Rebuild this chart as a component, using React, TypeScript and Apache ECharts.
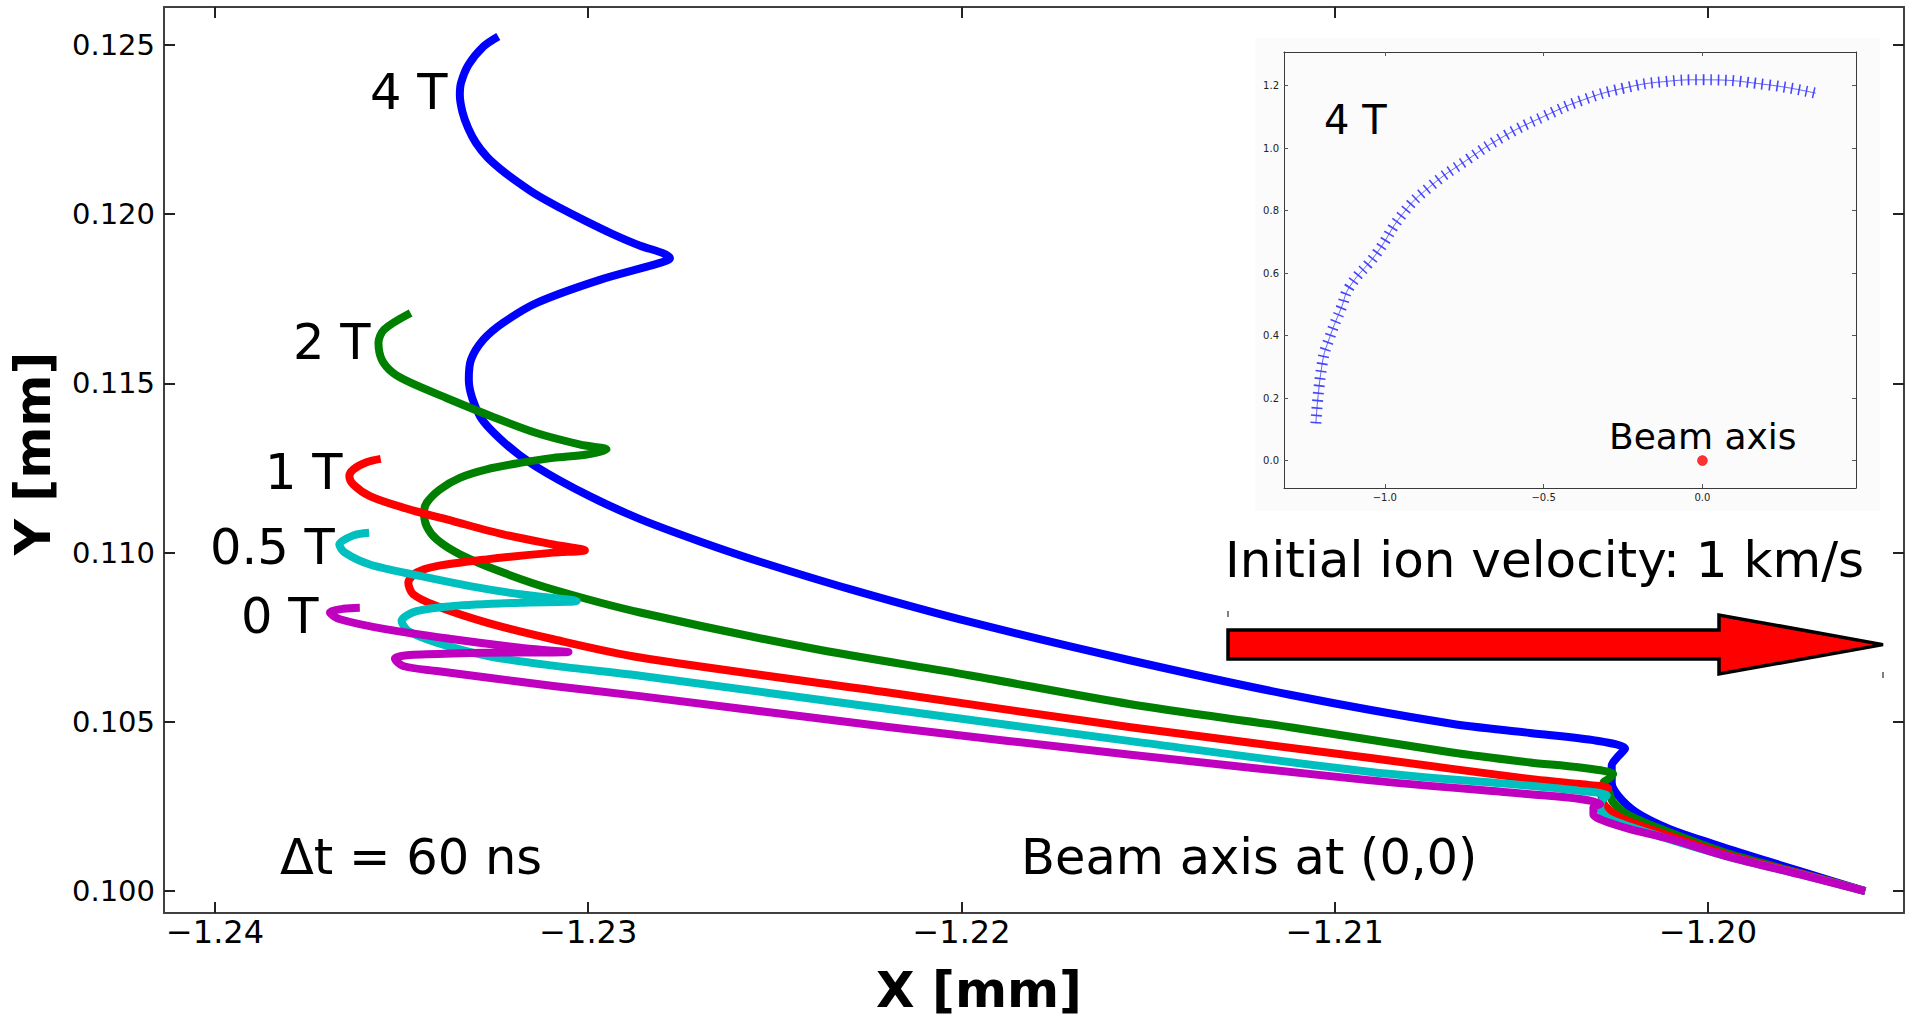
import React, { useEffect, useRef } from "react";
import * as echarts from "echarts";

const FONT = '"DejaVu Sans", "Liberation Sans", sans-serif';

// ---- main plot axes ----
const xTicks = [-1.24, -1.23, -1.22, -1.21, -1.2];
const yTicks = [0.1, 0.105, 0.11, 0.115, 0.12, 0.125];
const xRange = [-1.241366, -1.194749];
const yRange = [0.099351, 0.126122];

// ---- trajectories (X [mm], Y [mm]) ----
const traj4T = [
  [-1.23241, 0.12525], [-1.23281, 0.12495], [-1.23321, 0.12441], [-1.23341, 0.12387],
  [-1.23344, 0.12352], [-1.23337, 0.12302], [-1.23322, 0.12255], [-1.23301, 0.12211],
  [-1.23271, 0.12169], [-1.23236, 0.12134], [-1.23194, 0.12099], [-1.23138, 0.12057],
  [-1.23076, 0.12019], [-1.23009, 0.11981], [-1.22936, 0.11942], [-1.22861, 0.11907],
  [-1.228, 0.11885], [-1.22781, 0.1187], [-1.22808, 0.11856], [-1.22969, 0.11806],
  [-1.23138, 0.11738], [-1.23228, 0.11679], [-1.23281, 0.11629], [-1.23314, 0.1157],
  [-1.2332, 0.11511], [-1.2329, 0.11403], [-1.23224, 0.11324], [-1.23141, 0.11255],
  [-1.22995, 0.11166], [-1.22861, 0.11099], [-1.22701, 0.11033], [-1.2254, 0.10973],
  [-1.22299, 0.10892], [-1.21977, 0.10795], [-1.21549, 0.10682], [-1.2112, 0.1058],
  [-1.20691, 0.10495], [-1.20477, 0.10467], [-1.20298, 0.10444], [-1.20222, 0.10421],
  [-1.2024, 0.10399], [-1.20258, 0.1037], [-1.20258, 0.10321], [-1.2024, 0.10281],
  [-1.20191, 0.10232], [-1.20102, 0.10183], [-1.19986, 0.10139], [-1.19843, 0.10089],
  [-1.19754, 0.10059], [-1.19579, 0.1],
];
const traj2T = [
  [-1.23476, 0.11708], [-1.23547, 0.11659], [-1.23562, 0.1162], [-1.23553, 0.1157],
  [-1.23523, 0.11531], [-1.23476, 0.11502], [-1.2338, 0.11457], [-1.2326, 0.11403],
  [-1.23141, 0.11354], [-1.23021, 0.11319], [-1.22951, 0.11305], [-1.23004, 0.1129],
  [-1.23094, 0.1128], [-1.23183, 0.11265], [-1.23272, 0.11246], [-1.23344, 0.11221],
  [-1.23397, 0.11187], [-1.23433, 0.11147], [-1.2344, 0.11118], [-1.23433, 0.11078],
  [-1.23406, 0.11039], [-1.23344, 0.10995], [-1.23228, 0.10941], [-1.23094, 0.10891],
  [-1.22861, 0.10823], [-1.22406, 0.10718], [-1.21976, 0.10637], [-1.21547, 0.10552],
  [-1.21119, 0.10484], [-1.2069, 0.1041], [-1.20477, 0.1038], [-1.20343, 0.10365],
  [-1.20254, 0.10345], [-1.20267, 0.10331], [-1.2028, 0.10321], [-1.20267, 0.10296],
  [-1.20254, 0.10262], [-1.20209, 0.10222], [-1.20102, 0.10173], [-1.19941, 0.10109],
  [-1.19754, 0.10053], [-1.19579, 0.1],
];
const traj1T = [
  [-1.23556, 0.11277], [-1.23594, 0.11267], [-1.23629, 0.11246], [-1.2364, 0.11226],
  [-1.23629, 0.11201], [-1.23585, 0.11167], [-1.23496, 0.11133], [-1.23362, 0.11093],
  [-1.23228, 0.11054], [-1.23094, 0.11024], [-1.23009, 0.11007], [-1.23094, 0.11],
  [-1.23272, 0.1098], [-1.23406, 0.1096], [-1.2346, 0.10941], [-1.23482, 0.10911],
  [-1.23469, 0.10877], [-1.23406, 0.10842], [-1.23272, 0.10793], [-1.23094, 0.10744],
  [-1.22861, 0.1069], [-1.22191, 0.10586], [-1.21547, 0.10484], [-1.20904, 0.10393],
  [-1.20477, 0.10331], [-1.20343, 0.10316], [-1.20267, 0.10303], [-1.20285, 0.10281],
  [-1.20276, 0.10252], [-1.20227, 0.10213], [-1.20102, 0.10163], [-1.19941, 0.10104],
  [-1.19754, 0.10052], [-1.19579, 0.1],
];
const traj05T = [
  [-1.23587, 0.11059], [-1.23629, 0.11051], [-1.23667, 0.11024], [-1.23652, 0.11],
  [-1.23585, 0.10965], [-1.23451, 0.10931], [-1.23317, 0.10901], [-1.23183, 0.10877],
  [-1.23031, 0.10857], [-1.23183, 0.10852], [-1.23362, 0.10842], [-1.2346, 0.10827],
  [-1.235, 0.10798], [-1.23482, 0.10768], [-1.23406, 0.10734], [-1.23272, 0.10695],
  [-1.23094, 0.10666], [-1.22861, 0.10636], [-1.22191, 0.10537], [-1.21547, 0.10443],
  [-1.20904, 0.10352], [-1.20477, 0.10311], [-1.20343, 0.10296], [-1.20271, 0.10283],
  [-1.20285, 0.10267], [-1.20289, 0.10247], [-1.20263, 0.10213], [-1.20121, 0.10159],
  [-1.19941, 0.101], [-1.19754, 0.1005], [-1.19579, 0.1],
];
const traj0T = [
  [-1.23612, 0.10837], [-1.23656, 0.10834], [-1.23692, 0.10823], [-1.23665, 0.10803],
  [-1.2354, 0.10773], [-1.23362, 0.10744], [-1.23183, 0.10719], [-1.23094, 0.1071],
  [-1.23053, 0.10706], [-1.23094, 0.10705], [-1.23183, 0.10705], [-1.23362, 0.10702],
  [-1.23486, 0.10697], [-1.23518, 0.10687], [-1.23496, 0.10665], [-1.23406, 0.1065],
  [-1.23272, 0.10631], [-1.23094, 0.10606], [-1.22861, 0.10576], [-1.22191, 0.10484],
  [-1.21547, 0.10403], [-1.20904, 0.10327], [-1.20477, 0.10286], [-1.20343, 0.10272],
  [-1.20289, 0.10257], [-1.20307, 0.10247], [-1.20307, 0.10227], [-1.2028, 0.10208],
  [-1.20209, 0.10183], [-1.20102, 0.10154], [-1.19941, 0.101], [-1.19754, 0.10049],
  [-1.19579, 0.1],
];

const fieldNames = ["4 T", "2 T", "1 T", "0.5 T", "0 T"];
const fieldColors = ["#0000ff", "#008000", "#ff0000", "#00bfbf", "#bf00bf"];
const fieldData = [traj4T, traj2T, traj1T, traj05T, traj0T];

// ---- inset (4 T, long time) ----
const insetXTicks = [-1.0, -0.5, 0.0];
const insetYTicks = [0.0, 0.2, 0.4, 0.6, 0.8, 1.0, 1.2];
const insetXRange = [-1.3174, 0.4835];
const insetYRange = [-0.0878, 1.308];
const insetPath = [
  [-1.217, 0.119], [-1.197, 0.311], [-1.173, 0.396], [-1.136, 0.492], [-1.111, 0.556],
  [-1.026, 0.663], [-0.942, 0.792], [-0.858, 0.877], [-0.742, 0.962], [-0.627, 1.037],
  [-0.501, 1.101], [-0.375, 1.155], [-0.249, 1.192], [-0.123, 1.213], [0.0, 1.219],
  [0.207, 1.203], [0.357, 1.176],
];
const beamAxis = [[0.0, 0.0]];

const fmtX = (v: number) => (v < 0 ? "\u2212" : "") + Math.abs(v).toFixed(2);
const fmtY = (v: number) => v.toFixed(3);
const fmtInset = (v: number) => (v < 0 ? "\u2212" : "") + Math.abs(v).toFixed(1);

export default function App() {
  const ref = useRef<HTMLDivElement>(null);
  useEffect(() => {
    if (!ref.current) return;
    const chart = echarts.init(ref.current, undefined, { renderer: "svg" });

    const frameLine = { show: true, onZero: false, lineStyle: { color: "#404040", width: 2 } };
    const insetFrame = { show: true, onZero: false, lineStyle: { color: "#3a3a3a", width: 1 } };

    const mainSeries = fieldData.map((d, i) => ({
      name: fieldNames[i],
      type: "line",
      xAxisIndex: 0,
      yAxisIndex: 0,
      data: d,
      showSymbol: false,
      symbol: "none",
      smooth: 0.3,
      z: 3 + i,
      lineStyle: { color: fieldColors[i], width: 8, cap: "butt", join: "round" },
    }));

    const text = (t: string, x: number, y: number, size: number) => ({
      type: "text",
      x,
      y,
      z: 20,
      style: {
        text: t,
        fill: "#000",
        font: `${size}px ${FONT}`,
        fontSize: size,
        fontFamily: FONT,
        align: "left",
        verticalAlign: "middle",
        textAlign: "left",
        textVerticalAlign: "middle",
      },
    });

    chart.setOption({
      animation: false,
      backgroundColor: "#ffffff",
      grid: [
        { left: 164, top: 7, width: 1740, height: 907, containLabel: false },
        { left: 1284, top: 52, width: 572, height: 436, containLabel: false },
      ],
      xAxis: [
        {
          type: "value", gridIndex: 0, min: xRange[0], max: xRange[1], position: "bottom",
          name: "X [mm]", nameLocation: "middle", nameGap: 52,
          nameTextStyle: { fontFamily: FONT, fontSize: 50, fontWeight: "bold", color: "#000", padding: [0, 110, 0, 0] },
          axisLine: frameLine,
          axisTick: { show: true, inside: true, length: 11, customValues: xTicks, lineStyle: { color: "#222", width: 2 } },
          axisLabel: { show: true, customValues: xTicks, formatter: fmtX, margin: 3, fontFamily: FONT, fontSize: 32, color: "#000" },
          splitLine: { show: false },
        },
        {
          type: "value", gridIndex: 0, min: xRange[0], max: xRange[1], position: "top",
          axisLine: frameLine,
          axisTick: { show: true, inside: true, length: 11, customValues: xTicks, lineStyle: { color: "#222", width: 2 } },
          axisLabel: { show: false },
          splitLine: { show: false },
        },
        {
          type: "value", gridIndex: 1, min: insetXRange[0], max: insetXRange[1], position: "bottom",
          axisLine: insetFrame,
          axisTick: { show: true, inside: true, length: 4, customValues: insetXTicks, lineStyle: { color: "#555", width: 1 } },
          axisLabel: { show: true, customValues: insetXTicks, formatter: fmtInset, margin: 4, fontFamily: FONT, fontSize: 10, color: "#222" },
          splitLine: { show: false },
        },
        {
          type: "value", gridIndex: 1, min: insetXRange[0], max: insetXRange[1], position: "top",
          axisLine: insetFrame,
          axisTick: { show: true, inside: true, length: 4, customValues: insetXTicks, lineStyle: { color: "#555", width: 1 } },
          axisLabel: { show: false },
          splitLine: { show: false },
        },
      ],
      yAxis: [
        {
          type: "value", gridIndex: 0, min: yRange[0], max: yRange[1], position: "left",
          name: "Y [mm]", nameLocation: "middle", nameGap: 106, nameRotate: 90,
          nameTextStyle: { fontFamily: FONT, fontSize: 50, fontWeight: "bold", color: "#000", padding: [0, 0, 0, 13] },
          axisLine: frameLine,
          axisTick: { show: true, inside: true, length: 11, customValues: yTicks, lineStyle: { color: "#222", width: 2 } },
          axisLabel: { show: true, customValues: yTicks, formatter: fmtY, margin: 9, fontFamily: FONT, fontSize: 29, color: "#000" },
          splitLine: { show: false },
        },
        {
          type: "value", gridIndex: 0, min: yRange[0], max: yRange[1], position: "right",
          axisLine: frameLine,
          axisTick: { show: true, inside: true, length: 11, customValues: yTicks, lineStyle: { color: "#222", width: 2 } },
          axisLabel: { show: false },
          splitLine: { show: false },
        },
        {
          type: "value", gridIndex: 1, min: insetYRange[0], max: insetYRange[1], position: "left",
          axisLine: insetFrame,
          axisTick: { show: true, inside: true, length: 4, customValues: insetYTicks, lineStyle: { color: "#555", width: 1 } },
          axisLabel: { show: true, customValues: insetYTicks, formatter: fmtInset, margin: 5, fontFamily: FONT, fontSize: 10, color: "#222" },
          splitLine: { show: false },
        },
        {
          type: "value", gridIndex: 1, min: insetYRange[0], max: insetYRange[1], position: "right",
          axisLine: insetFrame,
          axisTick: { show: true, inside: true, length: 4, customValues: insetYTicks, lineStyle: { color: "#555", width: 1 } },
          axisLabel: { show: false },
          splitLine: { show: false },
        },
      ],
      series: [
        ...mainSeries,
        {
          name: "4 T inset gyration",
          type: "line", xAxisIndex: 2, yAxisIndex: 2, data: insetPath,
          showSymbol: false, symbol: "none", smooth: 0.5, z: 4,
          lineStyle: { color: "#3232ff", width: 11, type: [1.6, 5.8], opacity: 0.9, cap: "butt" },
        },
        {
          name: "4 T inset guide",
          type: "line", xAxisIndex: 2, yAxisIndex: 2, data: insetPath,
          showSymbol: false, symbol: "none", smooth: 0.5, z: 4,
          lineStyle: { color: "#4040ff", width: 1, opacity: 0.8 },
        },
        {
          name: "Beam axis",
          type: "scatter", xAxisIndex: 2, yAxisIndex: 2, data: beamAxis,
          symbol: "circle", symbolSize: 10, z: 5,
          itemStyle: { color: "#ff0000", borderColor: "#d00000", borderWidth: 0.5 },
        },
      ],
      graphic: [
        { type: "rect", z: -1, shape: { x: 1255, y: 38, width: 625, height: 473 }, style: { fill: "#fbfbfb" } },
        {
          type: "polygon", z: 15,
          shape: { points: [[1228, 630], [1719, 630], [1719, 615], [1883, 644.6], [1719, 674], [1719, 659], [1228, 659]] },
          style: { fill: "#ff0000", stroke: "#000000", lineWidth: 3.5, lineJoin: "miter" },
        },
        { type: "line", z: 15, shape: { x1: 1228, y1: 611, x2: 1228, y2: 617 }, style: { stroke: "#000", lineWidth: 1 } },
        { type: "line", z: 15, shape: { x1: 1883, y1: 672, x2: 1883, y2: 678 }, style: { stroke: "#000", lineWidth: 1 } },
        text("4 T", 370, 92, 49.5),
        text("2 T", 293, 342, 49.5),
        text("1 T", 265, 472, 49.5),
        text("0.5 T", 210, 547, 49.5),
        text("0 T", 241, 616, 49.5),
        text("\u0394t = 60 ns", 280, 857, 49.5),
        text("Beam axis at (0,0)", 1021, 857, 49.5),
        text("Initial ion velocity: 1 km/s", 1225, 560, 50),
        text("4 T", 1324, 120, 40),
        text("Beam axis", 1609, 436, 36),
      ],
    });
    return () => chart.dispose();
  }, []);

  return (
    <div
      ref={ref}
      style={{ position: "fixed", left: 0, top: 0, width: 1905, height: 1020, background: "#fff" }}
    />
  );
}
